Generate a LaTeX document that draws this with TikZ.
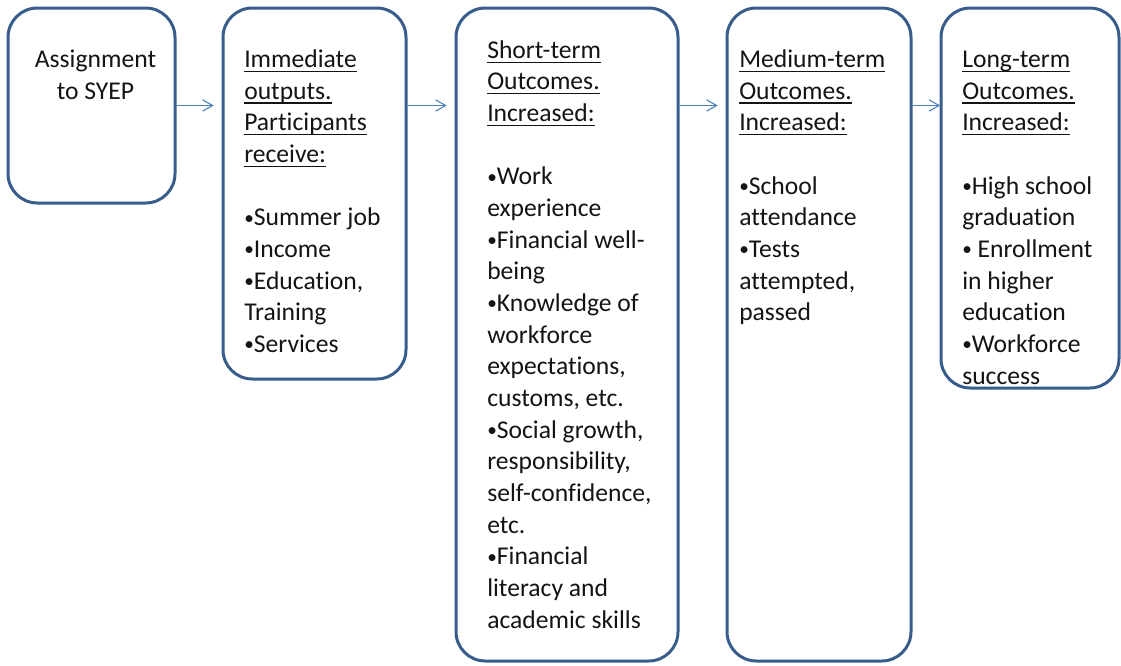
\documentclass[tikz,border=0pt]{standalone}
\usepackage{fontspec}
\setmainfont{Carlito}[Ligatures=NoCommon]
\usetikzlibrary{arrows.meta}
\definecolor{boxline}{RGB}{56,93,138}
\definecolor{arrowline}{RGB}{74,126,187}
\definecolor{inktext}{RGB}{20,20,20}
% underline set at a fixed depth below the baseline
\newcommand\uln[1]{\leavevmode\setbox0\hbox{#1}\rlap{\rule[-3.4pt]{\wd0}{0.95pt}}\box0}
% small list bullet
\newcommand\bul{\raisebox{1.2pt}{\fontsize{14.5}{14.5}\selectfont•}}
\begin{document}
\begin{tikzpicture}[x=0.75pt,y=-0.75pt,
  stage/.style={draw=boxline, line width=2.25pt, rounded corners=22pt, fill=white,
    anchor=north west, inner sep=0pt, outer sep=0pt},
  boxtext/.style={anchor=north west, inner sep=0pt, align=left, text=inktext,
    font=\fontsize{19.2}{23.74}\selectfont},
  flow/.style={draw=arrowline, line width=0.8pt,
    -{Straight Barb[length=7.5pt,width=8.5pt]}, shorten >=7pt}]
\useasboundingbox (0,0) rectangle (1121,665);

% stage boxes
\node[stage, minimum width=125.25pt, minimum height=146.25pt] (b1) at (8,8) {};
\node[stage, minimum width=137.25pt, minimum height=278.25pt] (b2) at (223,8) {};
\node[stage, minimum width=166.5pt, minimum height=489.75pt] (b3) at (456,8) {};
\node[stage, minimum width=138pt, minimum height=489.75pt] (b4) at (727,8) {};
\node[stage, minimum width=133.5pt, minimum height=285pt] (b5) at (941,8) {};

% connectors
\draw[flow] (b1.east) -- (b1.east -| b2.west);
\draw[flow] (b2.east |- b1.east) -- (b1.east -| b3.west);
\draw[flow] (b3.east |- b1.east) -- (b1.east -| b4.west);
\draw[flow, shorten >=0.6pt] (b4.east |- b1.east) -- (b1.east -| b5.west);

% box contents
\node[boxtext, anchor=north, align=center] (t1) at (95.5,45.14)
  {\strut Assignment\\to SYEP};

\node[boxtext] (t2) at (244,45.14)
  {\strut\uln{Immediate}\\\uln{outputs.}\\\uln{Participants}\\\uln{receive:}\\[23.74pt]
   \bul Summer job\\\bul Income\\\bul Education,\\Training\\\bul Services};

\node[boxtext] (t3) at (487,35.84)
  {\strut\uln{Short-term}\\\uln{Outcomes.}\\\uln{Increased:}\\[23.74pt]
   \bul Work\\experience\\\bul Financial well-\\being\\\bul Knowledge of\\workforce\\expectations,\\customs, etc.\\
   \bul Social growth,\\responsibility,\\self-confidence,\\etc.\\\bul Financial\\literacy and\\academic skills};

\node[boxtext] (t4) at (739,45.14)
  {\strut\uln{Medium-term}\\\uln{Outcomes.}\\\uln{Increased:}\\[23.74pt]
   \bul School\\attendance\\\bul Tests\\attempted,\\passed};

\node[boxtext] (t5) at (962,45.14)
  {\strut\uln{Long-term}\\\uln{Outcomes.}\\\uln{Increased:}\\[23.74pt]
   \bul High school\\graduation\\\bul{} Enrollment\\in higher\\education\\\bul Workforce\\success};
\end{tikzpicture}
\end{document}
